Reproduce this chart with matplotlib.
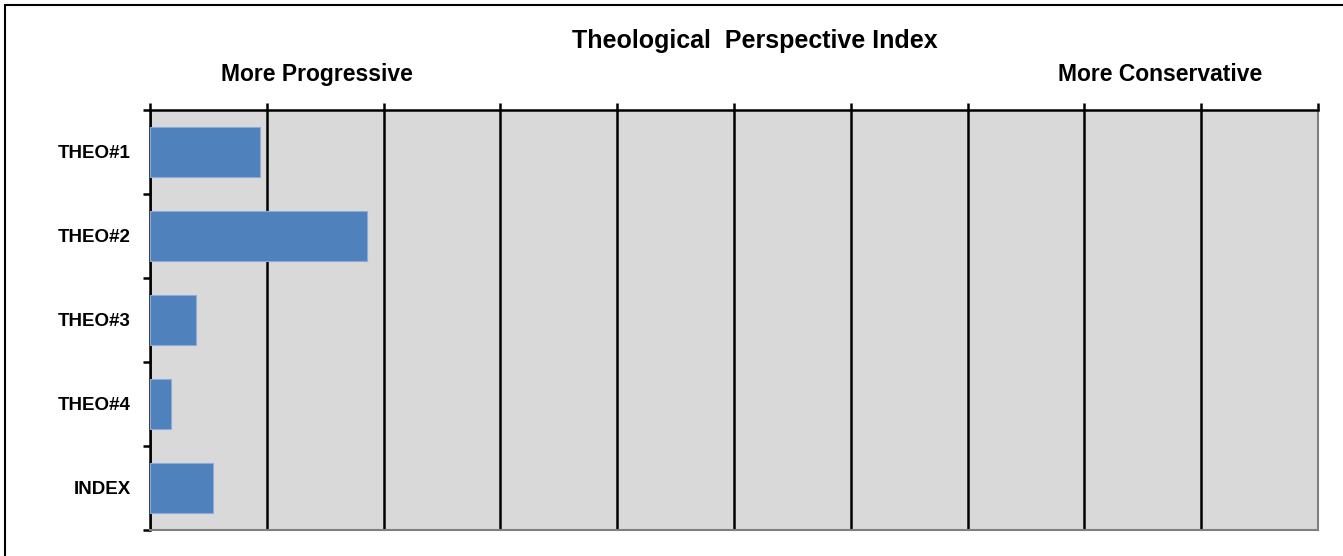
import matplotlib.pyplot as plt
from matplotlib.patches import Rectangle

# data
categories = ["THEO#1", "THEO#2", "THEO#3", "THEO#4", "INDEX"]
values = [0.94, 1.86, 0.39, 0.18, 0.54]
x_max = 10

plt.rcParams["font.family"] = ["Liberation Sans", "DejaVu Sans"]
plt.rcParams["font.weight"] = "bold"

W, H = 1343, 556
fig = plt.figure(figsize=(W / 100, H / 100), dpi=100)

# axes box in pixels
left, right, top, bottom = 150, 1318, 110, 530
ax = fig.add_axes([left / W, 1 - bottom / H, (right - left) / W, (bottom - top) / H])

ypos = list(range(len(categories)))
ax.barh(ypos, values, height=0.6, color="#4f81bd", edgecolor="#8eaad6", linewidth=0.8, zorder=3)

ax.set_xlim(0, x_max)
ax.set_ylim(len(categories) - 0.5, -0.5)
ax.set_facecolor("#d9d9d9")

# vertical gridlines
ax.xaxis.tick_top()
ax.set_xticks(range(0, x_max + 1))
ax.set_xticklabels([])
ax.grid(axis="x", color="black", linewidth=1.8, zorder=1)
ax.tick_params(axis="x", direction="out", length=5, width=1.8, color="black")

# category labels with ticks on the boundaries
ax.set_yticks(ypos)
ax.set_yticklabels(categories, fontsize=13.5, fontweight="bold")
ax.set_yticks([i - 0.5 for i in range(len(categories) + 1)], minor=True)
ax.tick_params(axis="y", which="major", length=0, pad=14)
ax.tick_params(axis="y", which="minor", direction="out", length=5, width=1.8, color="black")

ax.spines["left"].set_color("black")
ax.spines["left"].set_linewidth(1.8)
ax.spines["top"].set_color("black")
ax.spines["top"].set_linewidth(1.8)
ax.spines["right"].set_color("#808080")
ax.spines["right"].set_linewidth(1.5)
ax.spines["bottom"].set_color("#808080")
ax.spines["bottom"].set_linewidth(1.5)

# headings
fig.text(755 / W, 1 - 48 / H, "Theological  Perspective Index", ha="center", va="baseline",
         fontsize=18, fontweight="bold")
fig.text(317 / W, 1 - 81 / H, "More Progressive", ha="center", va="baseline",
         fontsize=16.5, fontweight="bold")
fig.text(1160 / W, 1 - 81 / H, "More Conservative", ha="center", va="baseline",
         fontsize=16.5, fontweight="bold")

# outer chart border
fig.patches.append(Rectangle((5 / W, -0.1), 1.2, 1 - 5 / H + 0.1, transform=fig.transFigure,
                             fill=False, edgecolor="black", linewidth=1.5))

fig.savefig("out.png", dpi=100)
